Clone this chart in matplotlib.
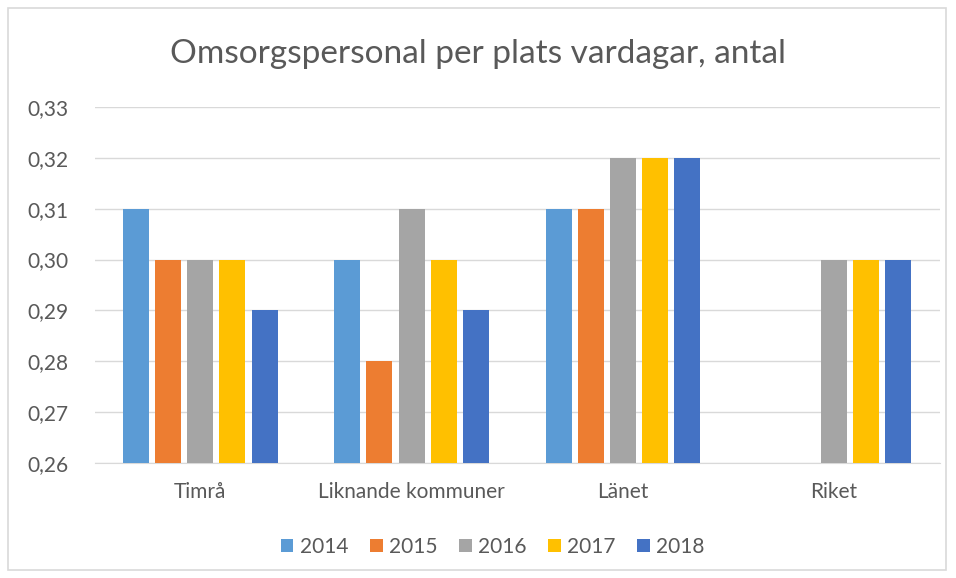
import numpy as np
import matplotlib.pyplot as plt
from matplotlib.patches import Rectangle

categories = ['Timrå', 'Liknande kommuner', 'Länet', 'Riket']
years = ['2014', '2015', '2016', '2017', '2018']
v2014 = [0.31, 0.30, 0.31, np.nan]
v2015 = [0.30, 0.28, 0.31, np.nan]
v2016 = [0.30, 0.31, 0.32, 0.30]
v2017 = [0.30, 0.30, 0.32, 0.30]
v2018 = [0.29, 0.29, 0.32, 0.30]
colors = ['#5B9BD5', '#ED7D31', '#A5A5A5', '#FFC000', '#4472C4']

series = [v2014, v2015, v2016, v2017, v2018]
txt = '#595959'
plt.rcParams['font.family'] = ['Lato', 'DejaVu Sans']

fig = plt.figure(figsize=(9.56, 5.78), dpi=100)
ax = fig.add_axes([0.099, 0.199, 0.884, 0.616])

x = np.arange(len(categories))
step = 0.152
width = 0.123
for i, (vals, c, y) in enumerate(zip(series, colors, years)):
    ax.bar(x + (i - 2) * step, vals, width=width, color=c, label=y, zorder=3)

ax.set_ylim(0.26, 0.33)
ax.set_xlim(-0.5, 3.5)
ax.set_yticks(np.arange(0.26, 0.3301, 0.01))
ax.set_yticklabels([f'{t:.2f}'.replace('.', ',') for t in np.arange(0.26, 0.3301, 0.01)])
ax.set_xticks(x)
ax.set_xticklabels(categories)
ax.tick_params(length=0, labelsize=15, colors=txt, pad=14)
ax.tick_params(axis='y', pad=19)
ax.grid(axis='y', color='#D9D9D9', lw=1, zorder=0)
for s in ['top', 'right', 'left']:
    ax.spines[s].set_visible(False)
ax.spines['bottom'].set_color('#D9D9D9')

fig.text(0.5, 0.907, 'Omsorgspersonal per plats vardagar, antal', ha='center', va='center',
         fontsize=24, color=txt)

leg = ax.legend(loc='upper center', bbox_to_anchor=(0.471, -0.155), ncol=5, frameon=False,
                fontsize=15, handlelength=0.6, handleheight=0.6, handletextpad=0.3,
                columnspacing=1.05)
for t in leg.get_texts():
    t.set_color(txt)

fig.patches.append(Rectangle((8 / 956, 8 / 578), 938 / 956, 562 / 578, transform=fig.transFigure,
                             fill=False, edgecolor='#D9D9D9', lw=1.2))

fig.savefig('out.png', dpi=100)
